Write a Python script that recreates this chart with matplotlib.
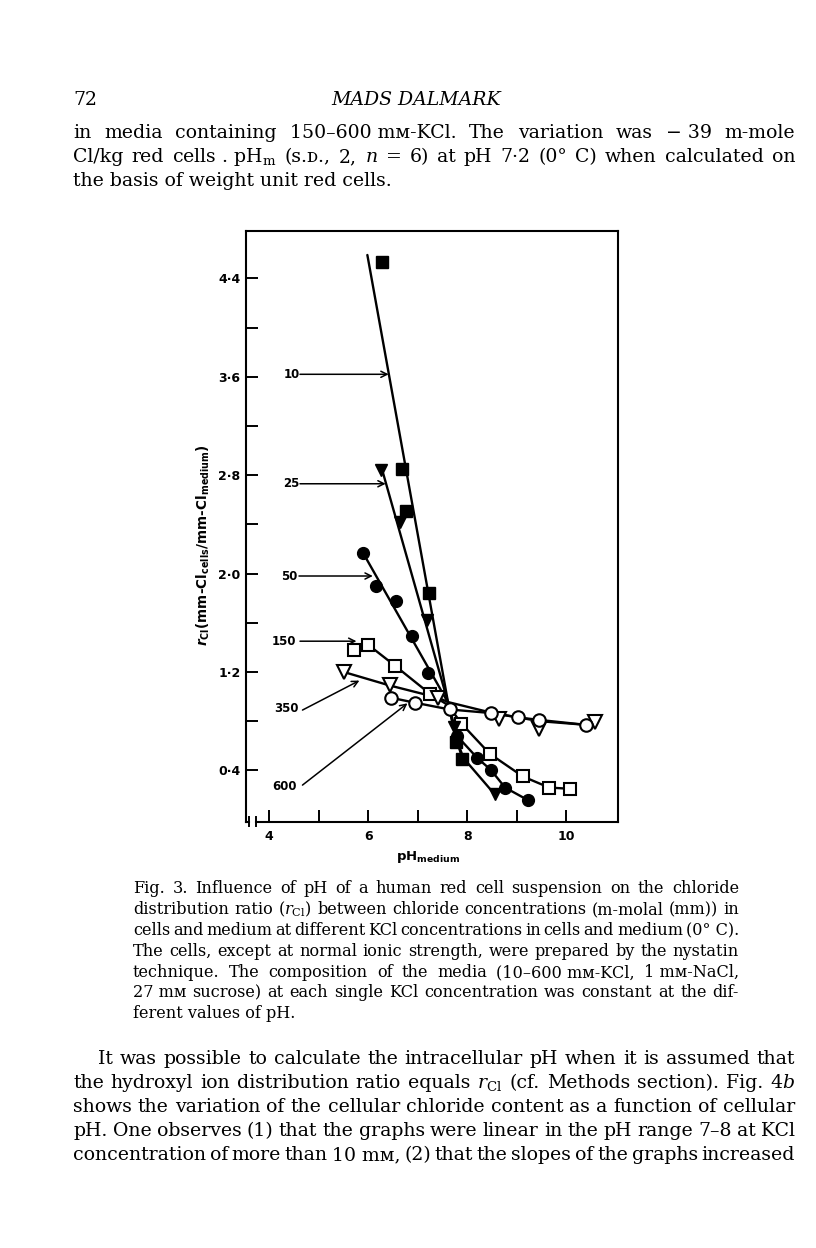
import matplotlib
matplotlib.use('Agg')
import matplotlib.pyplot as plt
import numpy as np

plt.rcParams['mathtext.fontset'] = 'custom'
plt.rcParams['mathtext.rm'] = 'DejaVu Serif'
plt.rcParams['mathtext.it'] = 'DejaVu Serif:italic'
plt.rcParams['mathtext.sf'] = 'DejaVu Sans:bold'
plt.rcParams['mathtext.bf'] = 'DejaVu Sans:bold'
plt.rcParams['mathtext.bfit'] = 'DejaVu Sans:italic:bold'

# ---------------- data ----------------
# 10 mM KCl : filled squares
x10 = [6.27, 6.68, 6.77, 7.23, 7.77, 7.90]
y10 = [4.53, 2.85, 2.51, 1.84, 0.63, 0.495]
line10_x = [5.98, 7.61, 7.77, 7.90]
line10_y = [4.59, 0.95, 0.66, 0.495]
# 25 mM : filled down-triangles
x25 = [6.26, 6.63, 7.18, 7.72, 8.55]
y25 = [2.84, 2.42, 1.62, 0.75, 0.205]
line25_x = [6.26, 7.61, 7.72, 7.81, 7.92, 8.55]
line25_y = [2.87, 0.95, 0.75, 0.62, 0.50, 0.205]
# 50 mM : filled circles
x50 = [5.89, 6.16, 6.56, 6.89, 7.21, 7.79, 8.20, 8.47, 8.76, 9.23]
y50 = [2.17, 1.90, 1.78, 1.49, 1.19, 0.68, 0.50, 0.405, 0.26, 0.156]
line50_x = [5.89, 7.61, 7.79, 8.20, 8.47, 8.76, 9.23]
line50_y = [2.17, 0.95, 0.68, 0.50, 0.405, 0.26, 0.156]
# 150 mM : open squares
x150 = [5.72, 6.00, 6.54, 7.25, 7.88, 8.45, 9.12, 9.65, 10.07]
y150 = [1.38, 1.42, 1.25, 1.02, 0.78, 0.535, 0.35, 0.26, 0.25]
line150_x = [6.00, 6.54, 7.25, 7.61, 7.88, 8.45, 9.12, 9.65, 10.07]
line150_y = [1.42, 1.25, 1.02, 0.93, 0.78, 0.535, 0.35, 0.26, 0.25]
# 350 mM : open down-triangles
x350 = [5.50, 6.43, 7.41, 8.64, 9.45, 10.58]
y350 = [1.20, 1.09, 0.99, 0.82, 0.74, 0.79]
line350_x = [5.50, 6.43, 7.41, 7.61, 8.47, 9.45, 10.39, 10.58]
line350_y = [1.20, 1.09, 0.99, 0.955, 0.87, 0.80, 0.77, 0.79]
# 600 mM : open circles
x600 = [6.46, 6.94, 7.64, 8.47, 9.03, 9.45, 10.39]
y600 = [0.99, 0.95, 0.895, 0.866, 0.83, 0.81, 0.77]

conc_labels = ['10', '25', '50', '150', '350', '600']
label_x = [4.45, 4.45, 4.40, 4.30, 4.34, 4.30]
label_y = [3.62, 2.73, 1.98, 1.45, 0.90, 0.27]
tail_x = [4.62, 4.62, 4.60, 4.62, 4.67, 4.67]
tail_y = [3.62, 2.73, 1.98, 1.45, 0.89, 0.28]
tip_x = [6.41, 6.35, 6.09, 5.76, 5.82, 6.79]
tip_y = [3.62, 2.73, 1.98, 1.45, 1.13, 0.945]

xticks = [4, 5, 6, 7, 8, 9, 10]
xticklabels = ['4', '', '6', '', '8', '', '10']
yticks = [0.4, 0.8, 1.2, 1.6, 2.0, 2.4, 2.8, 3.2, 3.6, 4.0, 4.4]
yticklabels = ['0·4', '', '1·2', '', '2·0', '', '2·8', '', '3·6', '', '4·4']

# ---------------- page text ----------------
top_lines = [
    'in|media|containing|150–600 mᴍ-KCl.|The|variation|was|− 39|m-mole',
    'Cl/kg|red|cells . pH$_{\\rm m}$|(ꜱ.ᴅ.,|2,|$n$|=|6)|at|pH|7·2|(0°|C)|when|calculated|on',
]
top_last = 'the basis of weight unit red cells.'
cap_lines = [
    'Fig.|3.|Influence|of|pH|of|a|human|red|cell|suspension|on|the|chloride',
    'distribution|ratio|($r_{\\rm Cl}$)|between|chloride|concentrations|(m-molal|(mm))|in',
    'cells|and|medium|at|different|KCl|concentrations|in|cells|and|medium|(0° C).',
    'The|cells,|except|at|normal|ionic|strength,|were|prepared|by|the|nystatin',
    'technique.|The|composition|of|the|media|(10–600 mᴍ-KCl,|1 mᴍ-NaCl,',
    '27 mᴍ|sucrose)|at|each|single|KCl|concentration|was|constant|at|the|dif-',
]
cap_last = 'ferent values of pH.'
body_lines = [
    'It|was|possible|to|calculate|the|intracellular|pH|when|it|is|assumed|that',
    'the|hydroxyl|ion|distribution|ratio|equals|$r_{\\rm Cl}$|(cf.|Methods|section).|Fig.|4$b$',
    'shows|the|variation|of|the|cellular|chloride|content|as|a|function|of|cellular',
    'pH.|One|observes|(1)|that|the|graphs|were|linear|in|the|pH|range|7–8|at|KCl',
    'concentration|of|more|than|10 mᴍ,|(2)|that|the|slopes|of|the|graphs|increased',
]

W, H = 816, 1248
fig = plt.figure(figsize=(W / 100, H / 100), dpi=100)
fig.patch.set_facecolor('white')
renderer = fig.canvas.get_renderer()
SERIF = ['DejaVu Serif', 'DejaVu Sans']


def put(s, x, y, size, ha='left', style='normal'):
    fig.text(x / W, 1 - y / H, s, fontsize=size, family=SERIF, ha=ha,
             va='baseline', style=style)


def natural(line, size):
    t = fig.text(0, 0, line.replace('|', ' '), fontsize=size, family=SERIF)
    w = t.get_window_extent(renderer).width
    t.remove()
    return w


def fit_size(lines, widths, trial=12.0):
    ratios = [w / natural(l, trial) for l, w in zip(lines, widths)]
    return trial * float(np.median(ratios)) * 0.985


def justify(line, y, x0, x1, size):
    words = line.split('|')
    ts = [fig.text(0, 0, w, fontsize=size, family=SERIF, va='baseline') for w in words]
    ws = [t.get_window_extent(renderer).width for t in ts]
    gap = (x1 - x0 - sum(ws)) / (len(ws) - 1)
    x = x0
    for t, w in zip(ts, ws):
        t.set_position((x / W, 1 - y / H))
        x += w + gap


LX, RX = 73, 795
CL, CR = 133, 739
body_widths = [RX - LX - 25] + [RX - LX] * 4
BODY = fit_size(body_lines + top_lines, body_widths + [RX - LX] * 2)
CAP = fit_size(cap_lines, [CR - CL] * len(cap_lines))

put('72', LX, 105, BODY)
put('MADS DALMARK', 416, 105, BODY, ha='center', style='italic')
for s, yy in zip(top_lines, [138, 162]):
    justify(s, yy, LX, RX, BODY)
put(top_last, LX, 186, BODY)

cap_y = [893, 914, 935, 956, 977, 997]
for s, yy in zip(cap_lines, cap_y):
    justify(s, yy, CL, CR, CAP)
put(cap_last, CL, 1018, CAP)

body_y = [1064, 1088, 1112, 1136, 1160]
for i, (s, yy) in enumerate(zip(body_lines, body_y)):
    justify(s, yy, LX + (25 if i == 0 else 0), RX, BODY)

# ---------------- chart ----------------
L, R, T, B = 246, 618, 231, 822
ax = fig.add_axes([L / W, 1 - B / H, (R - L) / W, (B - T) / H])
ax.set_xlim(3.53, 11.04)
ax.set_ylim(-0.02, 4.785)

lw = 1.7
for lx, ly in [(line10_x, line10_y), (line25_x, line25_y), (line50_x, line50_y),
               (line150_x, line150_y), (line350_x, line350_y), (x600, y600)]:
    ax.plot(lx, ly, color='black', lw=lw, zorder=2, solid_capstyle='round')

ms = 8
ax.plot(x10, y10, 's', color='black', ms=ms, zorder=4)
ax.plot(x25, y25, 'v', color='black', ms=ms + 1, zorder=4)
ax.plot(x50, y50, 'o', color='black', ms=ms + 0.5, zorder=4)
ax.plot(x150, y150, 's', mfc='white', mec='black', mew=1.5, ms=ms + 0.5, zorder=3)
ax.plot(x350, y350, 'v', mfc='white', mec='black', mew=1.5, ms=ms + 1.5, zorder=3)
ax.plot(x600, y600, 'o', mfc='white', mec='black', mew=1.5, ms=ms + 1, zorder=3)

for s, lx_, ly_, tx, ty, hx, hy in zip(conc_labels, label_x, label_y, tail_x, tail_y, tip_x, tip_y):
    ax.text(lx_, ly_, s, fontsize=8.5, fontweight='bold', family='DejaVu Sans',
            ha='center', va='center')
    ax.annotate('', xy=(hx, hy), xytext=(tx, ty),
                arrowprops=dict(arrowstyle='->', lw=1.1, color='black',
                                shrinkA=0, shrinkB=0, mutation_scale=11))

ax.set_xticks(xticks)
ax.set_xticklabels(xticklabels)
ax.set_yticks(yticks)
ax.set_yticklabels(yticklabels)
ax.tick_params(direction='in', length=8.5, width=1.4, pad=4, labelsize=9)
for lab in ax.get_xticklabels() + ax.get_yticklabels():
    lab.set_fontweight('bold')
    lab.set_family('DejaVu Sans')
ax.tick_params(axis='x', pad=6)
for sp in ax.spines.values():
    sp.set_linewidth(1.5)

# axis break on the bottom-left
ax.spines['bottom'].set_visible(False)
tr = ax.transAxes
b1 = 3 / (R - L)
b2 = 10 / (R - L)
ax.plot([0, b1], [0, 0], transform=tr, color='black', lw=1.5, clip_on=False)
ax.plot([b2, 1], [0, 0], transform=tr, color='black', lw=1.5, clip_on=False)
dy = 5 / (B - T)
for bx in (b1, b2):
    ax.plot([bx, bx], [-0.7 * dy, 1.0 * dy], transform=tr, color='black', lw=1.4,
            clip_on=False)

fig.text(428 / W, 1 - 857 / H, r'$\mathsf{pH}_{\mathsf{medium}}$', fontsize=9.5,
         ha='center', va='center')
fig.text(203 / W, 1 - 545 / H,
         r'$\mathbfit{r}_{\mathsf{Cl}}\mathsf{(mm‐Cl_{cells}/mm‐Cl_{medium})}$',
         fontsize=9.8, rotation=90, ha='center', va='center')

fig.savefig('out.png', dpi=100, facecolor='white')
